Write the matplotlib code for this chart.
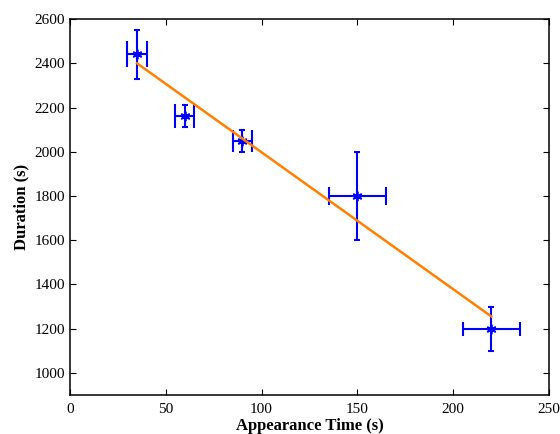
import numpy as np
import matplotlib.pyplot as plt

plt.rcParams['font.family'] = ['Liberation Serif', 'DejaVu Serif']

# data
t_app = [35, 60, 90, 150, 220]
dur = [2440, 2160, 2050, 1800, 1200]
t_err = [5, 5, 5, 15, 15]
dur_err = [110, 50, 50, 200, 100]

# fitted line end points
fit_x = [35, 220]
fit_y = [2400, 1255]

# cap heights of the horizontal bars (style only)
xcaps = [9.5, 8.3, 7.8, 6.8, 4.7]

fig = plt.figure(figsize=(5.6, 4.34), dpi=100)
ax = fig.add_axes([0.125, 0.09, 0.855, 0.866])

blue = '#0000FF'
for i in range(len(t_app)):
    ax.errorbar(t_app[i], dur[i], xerr=t_err[i], fmt='none', ecolor=blue,
                elinewidth=1.5, capsize=xcaps[i], capthick=1.5)
ax.errorbar(t_app, dur, yerr=dur_err, fmt='none', ecolor=blue,
            elinewidth=1.5, capsize=2.5, capthick=1.5)
ax.plot(t_app, dur, linestyle='none', marker=(6, 2, 0), markersize=7,
        color=blue, markeredgewidth=1.3)

ax.plot(fit_x, fit_y, color='#FF8000', linewidth=1.8)

ax.set_xlim(0, 250)
ax.set_ylim(900, 2600)
ax.set_xticks(np.arange(0, 251, 50))
ax.set_yticks(np.arange(1000, 2601, 200))
ax.tick_params(direction='in', top=True, right=True, labelsize=11, length=4)
ax.tick_params(axis='x', pad=6)
for s in ax.spines.values():
    s.set_linewidth(1.1)

ax.set_xlabel('Appearance Time (s)', fontsize=12, fontweight='bold', labelpad=1)
ax.set_ylabel('Duration (s)', fontsize=12, fontweight='bold', labelpad=4)

fig.savefig('out.png', dpi=100)
